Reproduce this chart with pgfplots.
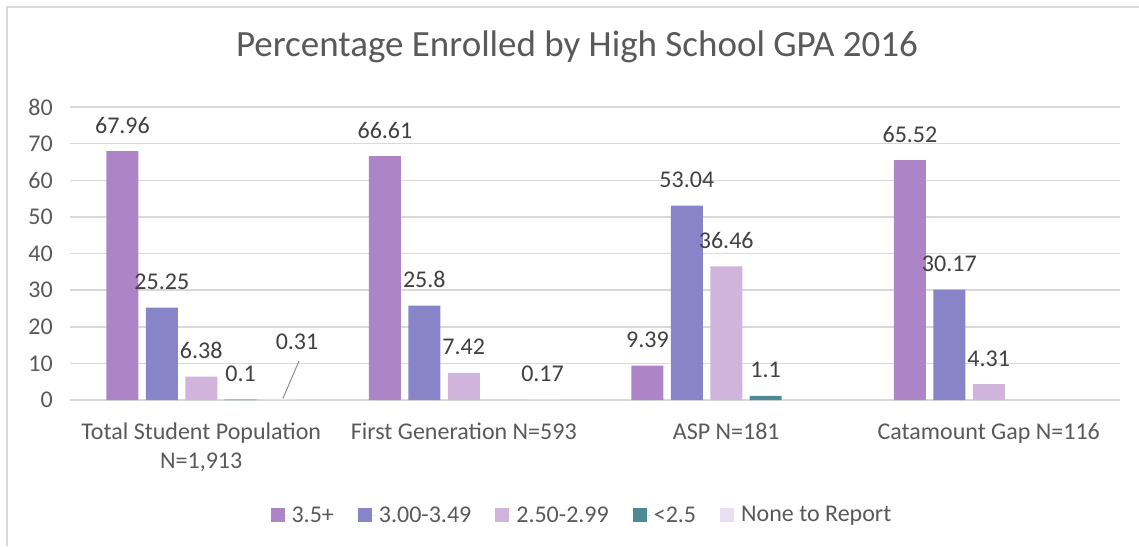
\documentclass[border=0pt]{standalone}
\usepackage{pgfplots}
\pgfplotsset{compat=1.18}
\usepackage{fontspec}
\setmainfont{Carlito}
\definecolor{cA}{HTML}{AD84C6}
\definecolor{cB}{HTML}{8784C7}
\definecolor{cC}{HTML}{D0B4DC}
\definecolor{cD}{HTML}{4E8A94}
\definecolor{cE}{HTML}{E8E0F0}
\definecolor{gridc}{HTML}{D9D9D9}
\definecolor{txt}{HTML}{595959}
\definecolor{lbl}{HTML}{404040}
\newcommand{\lf}{\fontsize{24}{29}\selectfont}
\begin{document}
\begin{tikzpicture}[x=1pt,y=1pt]
\draw[gridc, line width=2pt] (7,0) -- (7,539) -- (1139,539);
\node[anchor=base, text=txt, font=\fontsize{37}{44}\selectfont, inner sep=0pt] at (577,489) {Percentage Enrolled by High School GPA 2016};
\begin{axis}[
  at={(70pt,146pt)}, anchor=south west,
  scale only axis, width=1050pt, height=293pt,
  xmin=0.5, xmax=4.5, ymin=0, ymax=80,
  ybar=7.4pt, bar width=32pt,
  axis line style={draw=none},
  major tick length=0pt,
  ytick={0,10,...,80},
  ymajorgrids, grid style={gridc, line width=1.5pt},
  xtick={1,2,3,4},
  xticklabels={{Total Student Population\\N=1,913}, {First Generation N=593}, {ASP N=181}, {Catamount Gap N=116}},
  xticklabel style={align=center, anchor=north, inner sep=0pt, yshift=-23pt, font=\lf, text=txt},
  yticklabel style={anchor=east, inner sep=0pt, xshift=-17pt, font=\lf, text=txt},
  /pgf/number format/assume math mode=true,
  nodes near coords,
  nodes near coords style={anchor=base, inner sep=0pt, yshift=18pt, font=\lf, text=lbl},
  legend columns=5,
  legend style={at={(0.4876,-0.3925)}, anchor=center, draw=none, fill=none, font=\lf, text=txt,
    /tikz/every even column/.append style={column sep=22pt}},
  legend image code/.code={\path (0pt,0pt) -- (19pt,0pt); \fill[#1] (0pt,-7pt) rectangle (14pt,7pt);},
]
\addplot[fill=cA, draw=none]
  coordinates {(1,67.96) (2,66.61) (3,9.39) (4,65.52)};
\addlegendentry{3.5+}
\addplot[fill=cB, draw=none]
  coordinates {(1,25.25) (2,25.8) (3,53.04) (4,30.17)};
\addlegendentry{3.00-3.49}
\addplot[fill=cC, draw=none]
  coordinates {(1,6.38) (2,7.42) (3,36.46) (4,4.31)};
\addlegendentry{2.50-2.99}
\addplot[fill=cD, draw=none]
  coordinates {(1,0.1) (3,1.1)};
\addlegendentry{<2.5}
\addplot[fill=cE, draw=none,
  visualization depends on={\thisrow{dx} \as \dx},
  visualization depends on={\thisrow{dy} \as \dy},
  nodes near coords style={xshift=\dx pt, yshift=\dy pt}]
  table[x=x, y=y] {
x y dx dy
1 0.31 17 31
2 0.17 0 0
};
\addlegendentry{None to Report}
\draw[color=black!45, line width=1pt] (axis cs:1.311,0.4) -- (axis cs:1.372,10.6);
\end{axis}
\pgfresetboundingbox
\path (0,0) rectangle (1139,546);
\end{tikzpicture}
\end{document}
